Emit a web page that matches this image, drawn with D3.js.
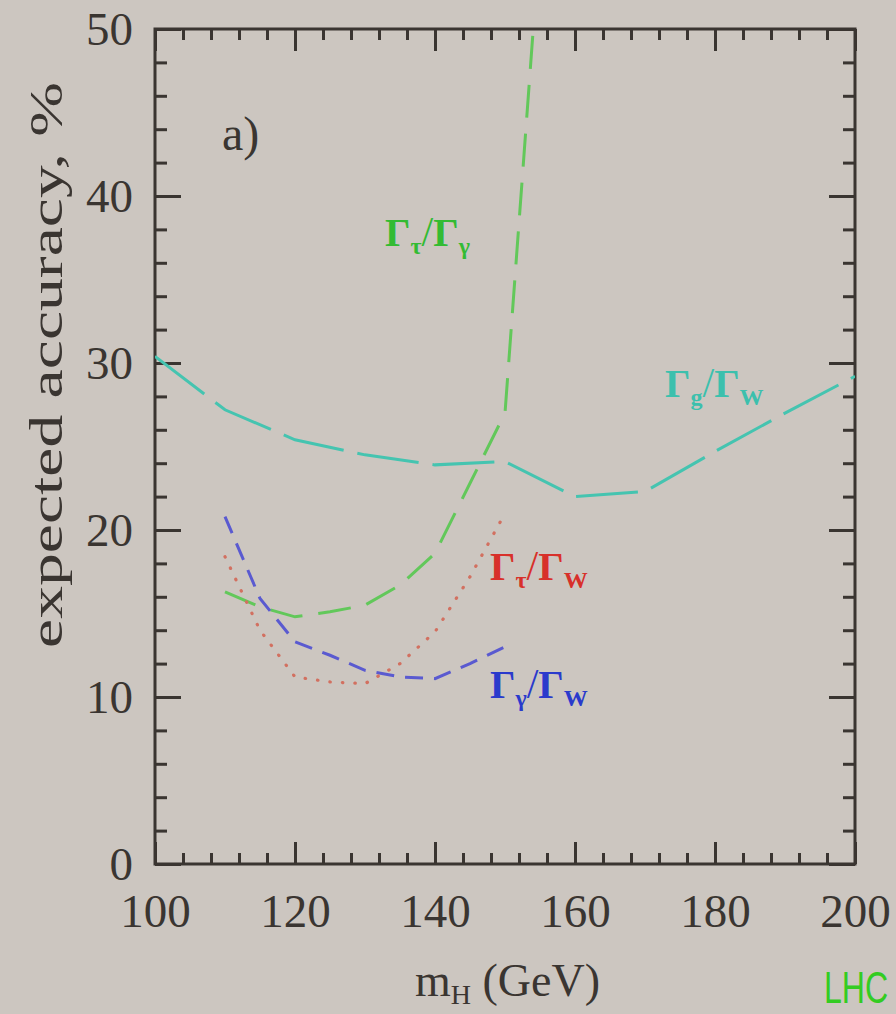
<!DOCTYPE html>
<html>
<head>
<meta charset="utf-8">
<script src="https://cdn.jsdelivr.net/npm/d3@7"></script>
<style>
  html, body { margin: 0; padding: 0; background: #ccc6c0; }
  svg { display: block; }
</style>
</head>
<body>
<svg id="chart" width="896" height="1014"></svg>
<script>
// ---- data ----
const xTicksMajor = [100, 120, 140, 160, 180, 200];
const yTicksMajor = [0, 10, 20, 30, 40, 50];

const massGW = [100, 110, 120, 130, 140, 150, 160, 170, 180, 190, 200];
const accGW  = [30.4, 27.2, 25.4, 24.5, 23.9, 24.1, 22.0, 22.3, 24.7, 27.0, 29.2];

const massTauGamma = [110, 115, 120, 125, 130, 135, 140, 145, 150, 155];
const accTauGamma  = [16.3, 15.4, 14.8, 15.1, 15.5, 16.7, 18.6, 22.8, 27.0, 55.5];

const massTauW = [110, 115, 120, 125, 130, 135, 140, 145, 150];
const accTauW  = [18.4, 14.0, 11.2, 10.9, 10.8, 12.0, 13.9, 17.2, 21.0];

const massGammaW = [110, 115, 120, 125, 130, 135, 140, 145, 150];
const accGammaW  = [20.8, 15.9, 13.3, 12.5, 11.6, 11.2, 11.1, 12.0, 13.0];

// ---- layout ----
const svg = d3.select("#chart");
const X0 = 155, X1 = 855, Y0 = 864, Y1 = 29;
const x = d3.scaleLinear().domain([100, 200]).range([X0, X1]);
const y = d3.scaleLinear().domain([0, 50]).range([Y0, Y1]);

svg.append("rect").attr("width", 896).attr("height", 1014).attr("fill", "#ccc6c0");

svg.append("clipPath").attr("id", "plotclip")
  .append("rect").attr("x", X0).attr("y", Y1).attr("width", X1 - X0).attr("height", Y0 - Y1);

const axisColor = "#3a3531";
const tickFont = "'Liberation Serif', 'Times New Roman', serif";
const xMinor = d3.range(100, 201, 4).filter(v => !xTicksMajor.includes(v));
const yMinor = d3.range(0, 51, 2).filter(v => !yTicksMajor.includes(v));

function styleAxis(g) {
  g.select(".domain").remove();
  g.selectAll(".tick line").attr("stroke", axisColor).attr("stroke-width", 3);
  g.selectAll(".tick text").attr("fill", "#3a3531")
    .style("font-family", tickFont).style("font-size", "47px");
}

// bottom
svg.append("g").attr("transform", `translate(0,${Y0})`)
  .call(d3.axisBottom(x).tickValues(xTicksMajor).tickSize(-22).tickPadding(30).tickFormat(d3.format("d")))
  .call(styleAxis);
svg.append("g").attr("transform", `translate(0,${Y0})`)
  .call(d3.axisBottom(x).tickValues(xMinor).tickSize(-11).tickFormat(""))
  .call(styleAxis);
// top
svg.append("g").attr("transform", `translate(0,${Y1})`)
  .call(d3.axisTop(x).tickValues(xTicksMajor).tickSize(-22).tickFormat(""))
  .call(styleAxis);
svg.append("g").attr("transform", `translate(0,${Y1})`)
  .call(d3.axisTop(x).tickValues(xMinor).tickSize(-11).tickFormat(""))
  .call(styleAxis);
// left
svg.append("g").attr("transform", `translate(${X0},0)`)
  .call(d3.axisLeft(y).tickValues(yTicksMajor).tickSize(-26).tickPadding(22).tickFormat(d3.format("d")))
  .call(styleAxis);
svg.append("g").attr("transform", `translate(${X0},0)`)
  .call(d3.axisLeft(y).tickValues(yMinor).tickSize(-12).tickFormat(""))
  .call(styleAxis);
// right
svg.append("g").attr("transform", `translate(${X1},0)`)
  .call(d3.axisRight(y).tickValues(yTicksMajor).tickSize(-26).tickFormat(""))
  .call(styleAxis);
svg.append("g").attr("transform", `translate(${X1},0)`)
  .call(d3.axisRight(y).tickValues(yMinor).tickSize(-12).tickFormat(""))
  .call(styleAxis);

// frame
svg.append("rect").attr("x", X0).attr("y", Y1).attr("width", X1 - X0).attr("height", Y0 - Y1)
  .attr("fill", "none").attr("stroke", axisColor).attr("stroke-width", 3);

// ---- curves ----
const line = d3.line().x(d => x(d[0])).y(d => y(d[1])).curve(d3.curveLinear);
const plot = svg.append("g").attr("clip-path", "url(#plotclip)");

function drawSeries(mass, acc, color, dash, width, cap) {
  plot.append("path")
    .datum(mass.map((m, i) => [m, acc[i]]))
    .attr("d", line)
    .attr("fill", "none")
    .attr("stroke", color)
    .attr("stroke-width", width)
    .attr("stroke-dasharray", dash)
    .attr("stroke-linecap", cap);
}

drawSeries(massGW, accGW, "#45c4b0", "62,14", 3, "butt");
drawSeries(massTauGamma, accTauGamma, "#62c85a", "33,16", 3, "butt");
drawSeries(massGammaW, accGammaW, "#5a5ad0", "18,11", 3, "butt");
drawSeries(massTauW, accTauW, "#d27060", "0.5,12", 3.2, "round");

// ---- text ----
const serif = "'Liberation Serif', 'Times New Roman', serif";

svg.append("text").attr("x", 222).attr("y", 150)
  .style("font-family", serif).style("font-size", "48px").attr("fill", "#3a3531").text("a)");

function ratioLabel(xp, yp, color, sub1, sub2) {
  const t = svg.append("text").attr("x", xp).attr("y", yp).attr("fill", color)
    .style("font-family", serif).style("font-size", "40px").style("font-weight", "bold");
  t.append("tspan").text("Γ");
  t.append("tspan").attr("dy", 8).style("font-size", "24px").text(sub1);
  t.append("tspan").attr("dy", -8).style("font-weight", "normal").style("font-size", "42px").text("/");
  t.append("tspan").text("Γ");
  t.append("tspan").attr("dy", 8).style("font-size", "24px").text(sub2);
}
ratioLabel(385, 246, "#33bb33", "τ", "γ");
ratioLabel(665, 397, "#3cc0ad", "g", "W");
ratioLabel(490, 580, "#d8302a", "τ", "W");
ratioLabel(490, 698, "#2a3acc", "γ", "W");

// axis titles
svg.append("text")
  .attr("transform", "translate(62,365) rotate(-90)")
  .attr("text-anchor", "middle")
  .attr("textLength", 566).attr("lengthAdjust", "spacingAndGlyphs")
  .style("font-family", serif).style("font-size", "46px").attr("fill", "#3a3531")
  .text("expected accuracy, %");

const xt = svg.append("text").attr("x", 415).attr("y", 996)
  .style("font-family", serif).style("font-size", "46px").attr("fill", "#3a3531");
xt.append("tspan").text("m");
xt.append("tspan").attr("dy", 8).style("font-size", "28px").text("H");
xt.append("tspan").attr("dy", -8).text(" (GeV)");

svg.append("text").attr("transform", "translate(824,1003) scale(0.73,1)")
  .style("font-family", "'Liberation Sans', Arial, sans-serif").style("font-size", "44px")
  .attr("fill", "#33cc22").text("LHC");
</script>
</body>
</html>
